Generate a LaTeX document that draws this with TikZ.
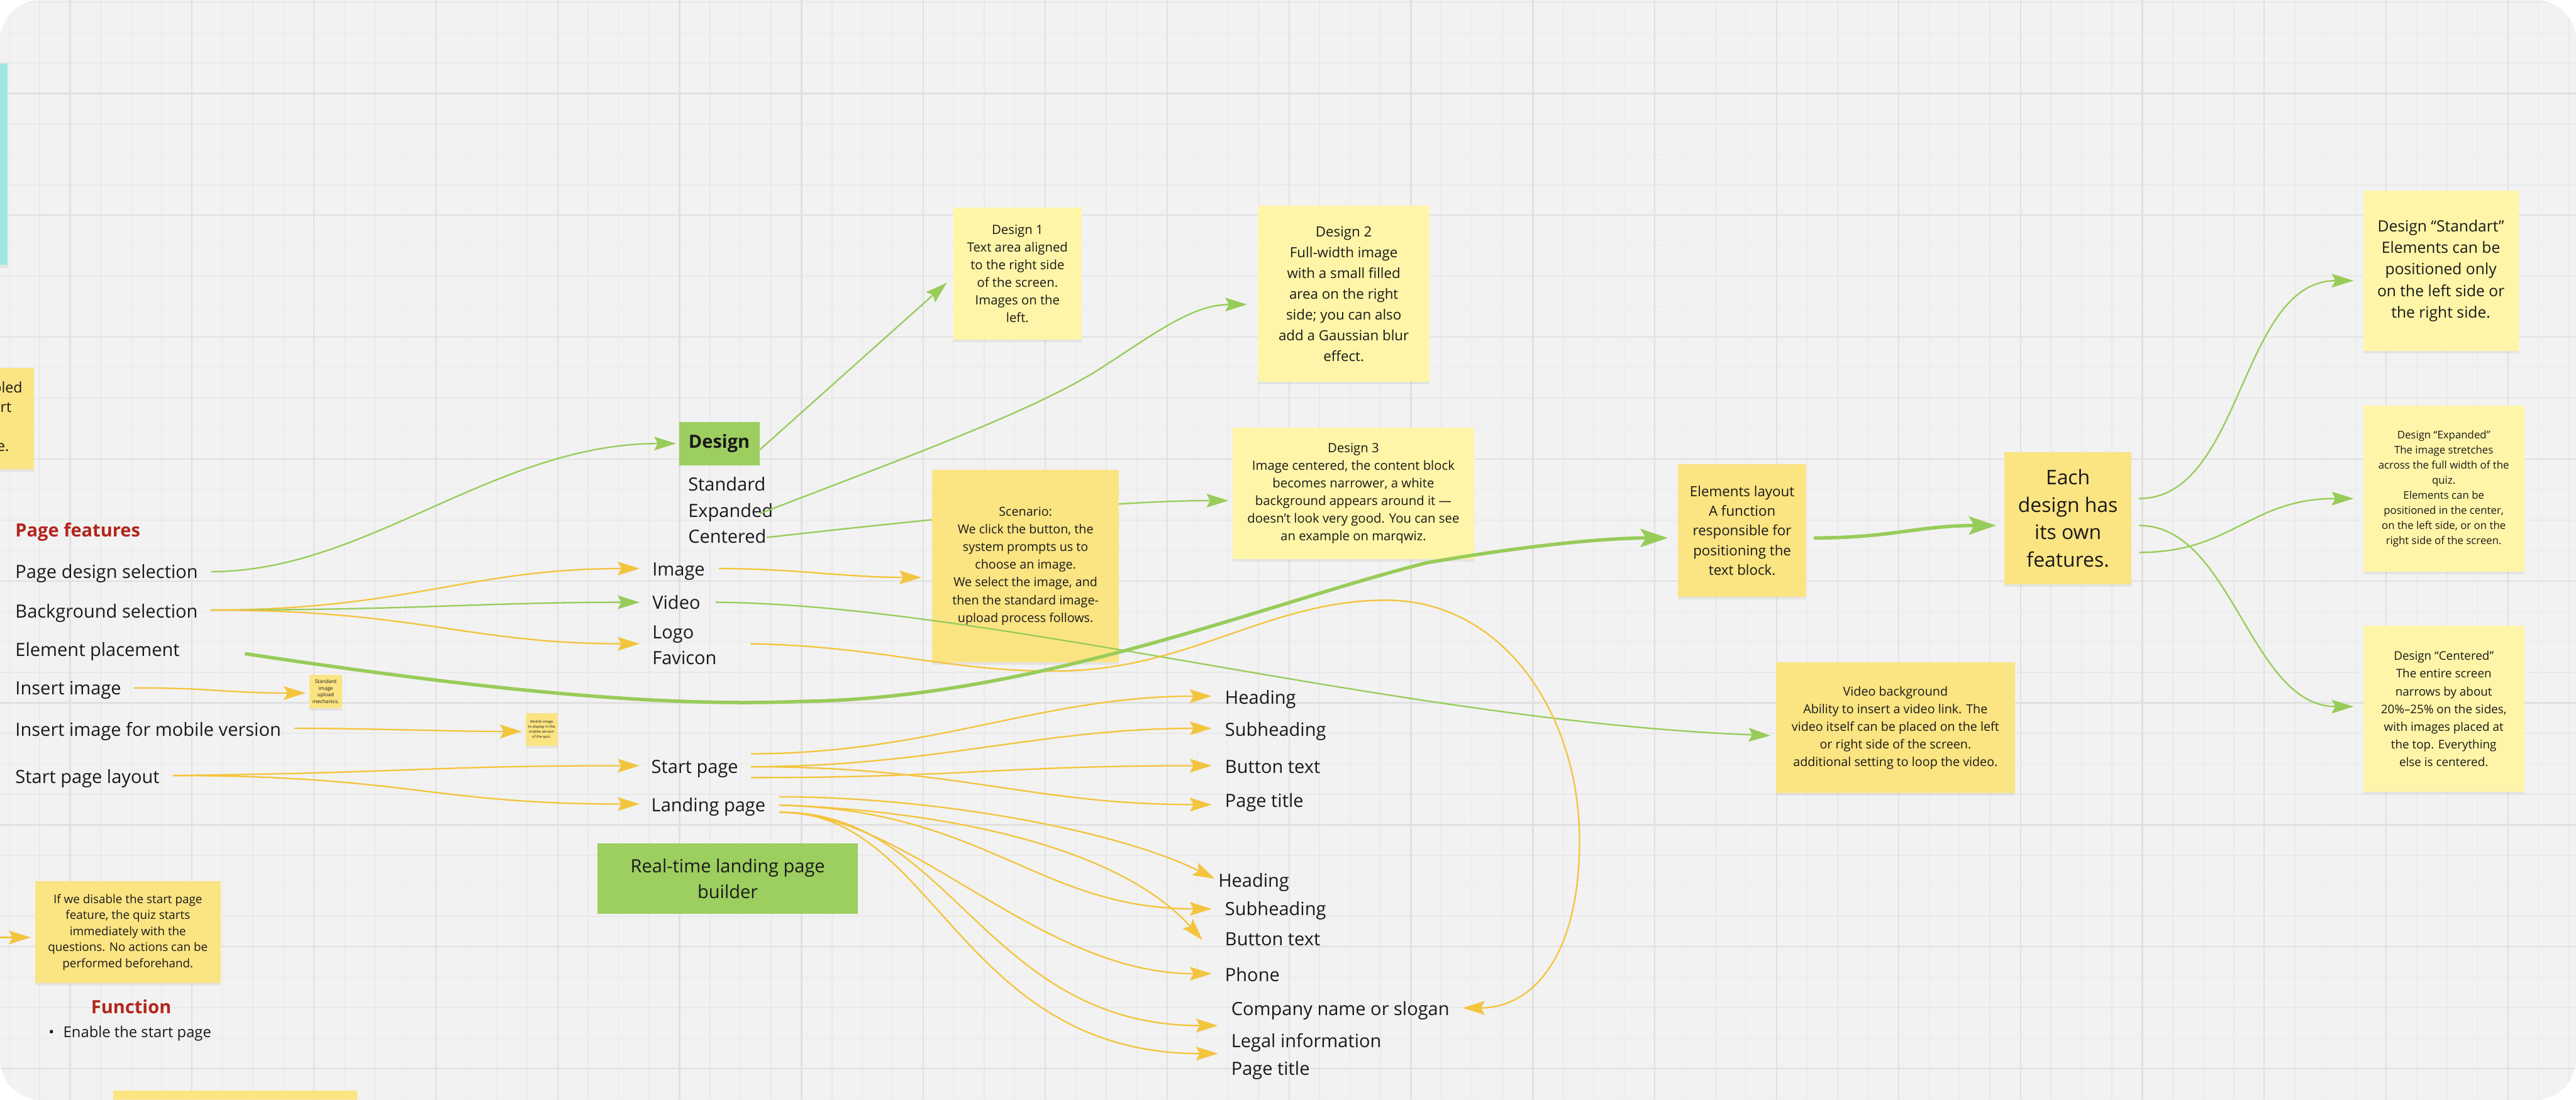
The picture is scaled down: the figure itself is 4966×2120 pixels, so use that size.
\documentclass[tikz,border=0pt]{standalone}
\usepackage{fontspec}
\setmainfont{Open Sans}
\usetikzlibrary{arrows.meta,calc,shadows}

\definecolor{bgc}{HTML}{F2F2F2}
\definecolor{gmin}{HTML}{E9E9E9}
\definecolor{gmaj}{HTML}{E0E0E0}
\definecolor{npale}{HTML}{FFF5A8}
\definecolor{nsat}{HTML}{FBE482}
\definecolor{gbox}{HTML}{9DCE60}
\definecolor{ycol}{HTML}{F3C43E}
\definecolor{gcol}{HTML}{98CC5A}
\definecolor{dred}{HTML}{B3241B}
\definecolor{cyanc}{HTML}{A0E6DF}
\definecolor{txt}{HTML}{1A1A1A}

\tikzset{
 lbl/.style={anchor=west, inner sep=0pt, text=txt, font=\fontsize{10}{14}\selectfont, text height=7.2pt, text depth=0pt},
 note/.style={inner sep=0pt, align=center, text=txt, drop shadow={shadow xshift=0pt, shadow yshift=-0.05cm, opacity=0.12}},
 pale/.style={note, fill=npale},
 sat/.style={note, fill=nsat},
 ya/.style={draw=ycol, line width=0.8pt, -{Stealth[length=12pt,width=7.5pt,inset=2pt]}},
 ga/.style={draw=gcol, line width=0.8pt, -{Stealth[length=12pt,width=7.5pt,inset=2pt]}},
 gt/.style={draw=gcol, line width=1.9pt, -{Stealth[length=15pt,width=10pt,inset=3pt]}},
}

\begin{document}
\begin{tikzpicture}[x=0.01cm,y=-0.01cm]
\useasboundingbox (0,0) rectangle (4966,2120);
\fill[white] (0,0) rectangle (4966,2120);
\begin{scope}
\clip[rounded corners=0.78cm] (0,0) rectangle (4966,2120);
\fill[bgc] (0,0) rectangle (4966,2120);
\foreach \i in {0,...,84} \draw[gmin, line width=0.5pt] ({17.5+58.75*\i},0) -- ({17.5+58.75*\i},2120);
\foreach \j in {0,...,36} \draw[gmin, line width=0.5pt] (0,{3.75+58.75*\j}) -- (4966,{3.75+58.75*\j});
\foreach \i in {0,...,20} \draw[gmaj, line width=0.8pt] ({135+235*\i},0) -- ({135+235*\i},2120);
\foreach \j in {0,...,8} \draw[gmaj, line width=0.8pt] (0,{180+235*\j}) -- (4966,{180+235*\j});

% left cut-off shapes
\fill[cyanc, drop shadow={shadow xshift=0pt, shadow yshift=-0.05cm, opacity=0.12}] (0,122) rectangle (14,511);
\node[sat, minimum width=2.65cm, minimum height=1.95cm] (lnote) at (-67.5,806.5) {};
\node[anchor=east, inner sep=0pt, text=txt, font=\fontsize{8}{10}\selectfont] (lt1) at (44,747) {bled};
\node[anchor=east, inner sep=0pt, text=txt, font=\fontsize{8}{10}\selectfont] (lt2) at (23,786) {rt};
\node[anchor=east, inner sep=0pt, text=txt, font=\fontsize{8}{10}\selectfont] (lt3) at (18,862) {e.};
\node[sat, minimum width=4.7cm, minimum height=0.5cm, anchor=north west] (bnote) at (218,2102) {};

% labels
\node[lbl, text=dred, font=\fontsize{10}{12}\selectfont\bfseries] (pf) at (29,1022) {Page features};
\node[lbl] (pds) at (29,1102) {Page design selection};
\node[lbl] (bg) at (29,1178) {Background selection};
\node[lbl] (ep) at (29,1253) {Element placement};
\node[lbl] (ii) at (29,1326) {Insert image};
\node[lbl] (iim) at (29,1407) {Insert image for mobile version};
\node[lbl] (spl) at (29,1497) {Start page layout};
\node[lbl] (im) at (1257,1097) {Image};
\node[lbl] (vi) at (1257,1162) {Video};
\node[anchor=west, inner sep=0pt, align=left, text=txt, font=\fontsize{10}{14.2}\selectfont] (lf) at (1257,1244) {Logo\\Favicon};
\node[lbl] (sd) at (1326,934) {Standard};
\node[lbl] (ex) at (1326,985) {Expanded};
\node[lbl] (ce) at (1326,1034) {Centered};
\node[lbl] (sp) at (1255,1478) {Start page};
\node[lbl] (lp) at (1255,1552) {Landing page};
\node[lbl] (h1) at (2361,1344) {Heading};
\node[lbl] (s1) at (2361,1407) {Subheading};
\node[lbl] (b1) at (2361,1478) {Button text};
\node[lbl] (p1) at (2361,1544) {Page title};
\node[lbl] (h2) at (2348,1697) {Heading};
\node[lbl] (s2) at (2361,1752) {Subheading};
\node[lbl] (b2) at (2361,1810) {Button text};
\node[lbl] (ph) at (2361,1879) {Phone};
\node[lbl] (cn) at (2373,1945) {Company name or slogan};
\node[lbl] (li) at (2373,2007) {Legal information};
\node[lbl] (p2) at (2373,2060) {Page title};
\node[inner sep=0pt, text=dred, font=\fontsize{10}{12}\selectfont\bfseries] (fn) at (253,1941) {Function};
\node[anchor=west, inner sep=0pt, text=txt, font=\fontsize{8.2}{10}\selectfont] (en) at (93,1992) {•\hspace{5pt}Enable the start page};

% green boxes
\node[fill=gbox, minimum width=1.55cm, minimum height=0.84cm, inner sep=0pt, text=txt, font=\fontsize{10}{12}\selectfont\bfseries] (dsg) at (1386.5,855) {Design};
\node[fill=gbox, minimum width=5.02cm, minimum height=1.35cm, inner sep=0pt, align=center, text=txt, font=\fontsize{10}{14}\selectfont] (rt) at (1403,1693.5) {Real-time landing page\\builder};

% notes
\node[pale, minimum width=2.47cm, minimum height=2.55cm, font=\fontsize{7}{9.7}\selectfont] (d1) at (1961.5,527.5) {Design 1\\Text area aligned\\to the right side\\of the screen.\\Images on the\\left.};
\node[pale, minimum width=3.31cm, minimum height=3.39cm, font=\fontsize{7.7}{11.4}\selectfont] (d2) at (2590.5,566.5) {Design 2\\Full-width image\\with a small filled\\area on the right\\side; you can also\\add a Gaussian blur\\effect.};
\node[pale, minimum width=4.66cm, minimum height=2.54cm, font=\fontsize{7}{9.7}\selectfont] (d3) at (2609,951) {Design 3\\Image centered, the content block\\becomes narrower, a white\\background appears around it —\\doesn’t look very good. You can see\\an example on marqwiz.};

\draw[ga] ($(ce.east)+(0,2)$) .. controls +(400,-45) and +(-200,0) .. ($(d3.west)+(-7,14)$);

\node[sat, minimum width=3.6cm, minimum height=3.7cm, font=\fontsize{6.8}{9.7}\selectfont] (sc) at (1977,1091) {Scenario:\\We click the button, the\\system prompts us to\\choose an image.\\We select the image, and\\then the standard image-\\upload process follows.};
\node[sat, minimum width=2.47cm, minimum height=2.55cm, font=\fontsize{7.7}{10.8}\selectfont] (el) at (3358.5,1022.5) {Elements layout\\A function\\responsible for\\positioning the\\text block.};
\node[sat, minimum width=2.45cm, minimum height=2.54cm, font=\fontsize{11}{15}\selectfont] (ea) at (3986.5,999) {Each\\design has\\its own\\features.};
\node[pale, minimum width=2.99cm, minimum height=3.08cm, font=\fontsize{8.5}{11.8}\selectfont] (st) at (4705.5,522) {Design “Standart”\\Elements can be\\positioned only\\on the left side or\\the right side.};
\node[pale, minimum width=3.1cm, minimum height=3.2cm, font=\fontsize{5.8}{8.25}\selectfont] (exn) at (4711,942) {Design “Expanded”\\The image stretches\\across the full width of the\\quiz.\\Elements can be\\positioned in the center,\\on the left side, or on the\\right side of the screen.};
\node[pale, minimum width=3.1cm, minimum height=3.19cm, font=\fontsize{6.5}{9.7}\selectfont] (cen) at (4711,1366.5) {Design “Centered”\\The entire screen\\narrows by about\\20\%–25\% on the sides,\\with images placed at\\the top. Everything\\else is centered.};
\node[sat, minimum width=4.6cm, minimum height=2.52cm, font=\fontsize{6.8}{9.7}\selectfont] (vb) at (3654,1403) {Video background\\Ability to insert a video link. The\\video itself can be placed on the left\\or right side of the screen.\\additional setting to loop the video.};
\node[sat, minimum width=3.57cm, minimum height=1.96cm, font=\fontsize{6.5}{8.8}\selectfont] (dis) at (246.5,1797) {If we disable the start page\\feature, the quiz starts\\immediately with the\\questions. No actions can be\\performed beforehand.};
\node[sat, minimum width=0.62cm, minimum height=0.64cm, font=\fontsize{2.8}{3.6}\selectfont] (t1) at (628,1333) {Standard\\image\\upload\\mechanics.};
\node[sat, minimum width=0.62cm, minimum height=0.63cm, font=\fontsize{2}{2.7}\selectfont] (t2) at (1044,1406.5) {Mobile image\\to display in the\\mobile version\\of the quiz.};

% connectors
\draw[ga] ($(pds.east)+(25,0)$) .. controls +(300,0) and +(-350,0) .. ($(dsg.west)+(-5,0)$);
\draw[ya] ($(bg.east)+(24,-2)$) .. controls +(380,0) and +(-330,0) .. ($(im.west)+(-24,-1)$);
\draw[ga] ($(bg.east)+(24,-2)$) .. controls +(400,0) and +(-300,0) .. ($(vi.west)+(-24,-1)$);
\draw[ya] ($(bg.east)+(24,-2)$) .. controls +(400,0) and +(-330,0) .. ($(lf.west)+(-24,-3)$);
\draw[ya] ($(ii.east)+(24,0)$) .. controls +(150,0) and +(-150,0) .. ($(t1.west)+(-7,3)$);
\draw[ya] ($(iim.east)+(25,-3)$) .. controls +(150,0) and +(-150,0) .. ($(t2.west)+(-6,3.5)$);
\draw[ya] ($(spl.east)+(25,-2)$) .. controls +(450,-5) and +(-400,0) .. ($(sp.west)+(-22,-2)$);
\draw[ya] ($(spl.east)+(25,-2)$) .. controls +(450,0) and +(-400,0) .. ($(lp.west)+(-22,-2)$);
\coordinate (lin) at (-40,1807);
\draw[ya] (lin) -- ($(dis.west)+(-8,10)$);

\draw[ga] ($(dsg.east)+(0,12)$) -- ($(d1.west)+(-12,17.5)$);
\draw[ga] ($(ex.east)+(-26,5)$) .. controls (1750,880) and (2000,790) .. (2128,706) .. controls (2230,640) and (2300,587) .. ($(d2.west)+(-20,20.5)$);
\draw[ya] ($(im.east)+(26,-1)$) .. controls +(150,0) and +(-150,0) .. ($(sc.west)+(-20,22)$);
\draw[ga] ($(vi.east)+(29,-1)$) .. controls +(524,4) and +(-714,-28) .. ($(vb.west)+(-10,15)$);
\draw[ya] ($(lf.east)+(65,-3)$) .. controls (1700,1245) and (1850,1300) .. (2060,1293) .. controls (2300,1285) and (2450,1157) .. (2672,1157) .. controls (2900,1157) and (3045,1380) .. (3045,1620) .. controls (3045,1850) and (2950,1943) .. ($(cn.east)+(25,-2)$);
\draw[gt] ($(ep.east)+(125,7)$) .. controls (1000,1340) and (1300,1362) .. (1550,1352) .. controls (2000,1345) and (2450,1160) .. (2750,1085) .. controls (2950,1050) and (3100,1037) .. ($(el.west)+(-19,14.5)$);

\draw[ya] ($(sp.east)+(24,-25)$) .. controls +(350,0) and +(-330,0) .. ($(h1.west)+(-25,-2)$);
\draw[ya] ($(sp.east)+(24,0)$) .. controls +(350,0) and +(-330,0) .. ($(s1.west)+(-25,-3)$);
\draw[ya] ($(sp.east)+(24,21)$) .. controls +(400,0) and +(-400,0) .. ($(b1.west)+(-25,-2)$);
\draw[ya] ($(sp.east)+(24,0)$) .. controls +(400,0) and +(-350,0) .. ($(p1.west)+(-25,7)$);

\draw[ya] ($(lp.east)+(26,-16)$) .. controls +(300,0) and +(-190,-94) .. ($(h2.west)+(-6,-3)$);
\draw[ya] ($(lp.east)+(26,0)$) .. controls +(400,10) and +(-336,0) .. ($(s2.west)+(-25,0)$);
\draw[ya] ($(lp.east)+(26,0)$) .. controls +(250,8) and +(-180,-200) .. ($(b2.west)+(-43,2)$);
\draw[ya] ($(lp.east)+(26,14)$) .. controls +(250,0) and +(-336,0) .. ($(ph.west)+(-25,-2)$);
\draw[ya] ($(lp.east)+(26,14)$) .. controls +(330,-5) and +(-450,0) .. ($(li.west)+(-25,-30)$);
\draw[ya] ($(lp.east)+(26,14)$) .. controls +(300,-5) and +(-500,0) .. ($(p2.west)+(-25,-29)$);

\draw[gt] ($(el.east)+(14,14.5)$) .. controls +(150,0) and +(-150,0) .. ($(ea.west)+(-15,14)$);
\draw[ga] ($(ea.east)+(14,-38)$) .. controls +(200,0) and +(-220,0) .. ($(st.west)+(-18,19)$);
\draw[ga] ($(ea.east)+(14,66)$) .. controls +(180,0) and +(-200,0) .. ($(exn.west)+(-18,19)$);
\draw[ga] ($(ea.east)+(14,14)$) .. controls +(180,0) and +(-200,0) .. ($(cen.west)+(-18,-4.5)$);
\end{scope}
\end{tikzpicture}
\end{document}
